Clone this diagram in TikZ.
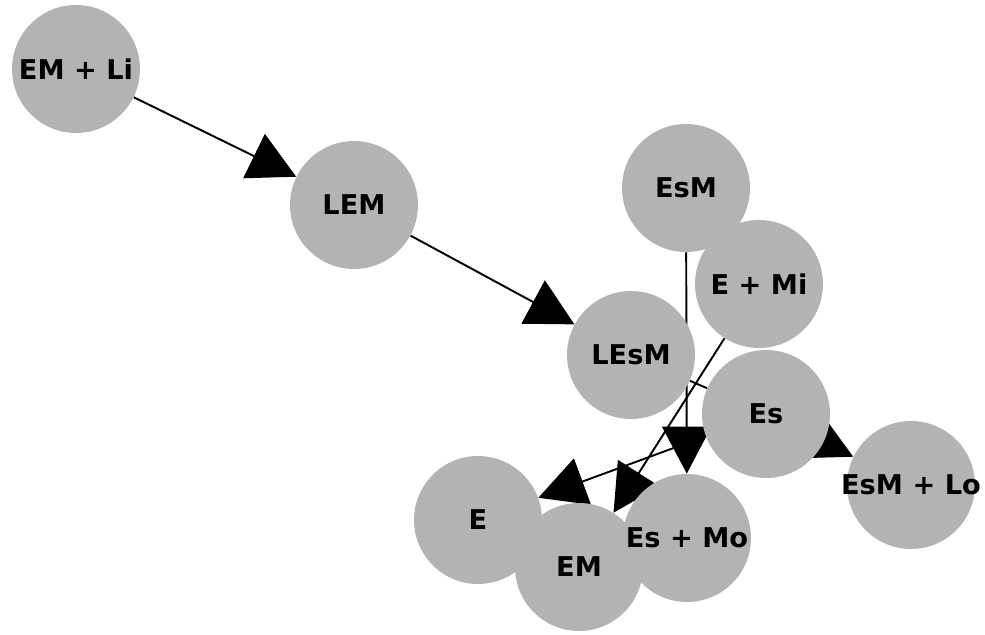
\documentclass[tikz,border=0pt]{standalone}
\usepackage{fontspec}
\setmainfont{DejaVu Sans}
\usetikzlibrary{arrows.meta,backgrounds}

% label that may run past its disc without widening it
\newcommand{\overhang}[1]{\makebox[0pt]{#1}}

\begin{document}
\begin{tikzpicture}[
    x=0.02cm, y=-0.02cm,
    % gray state discs and thin black transitions
    state/.style={circle, fill={rgb,255:red,179;green,179;blue,179}, draw=none,
                  minimum size=2.56cm, inner sep=0pt,
                  font=\fontsize{15.5}{18}\selectfont\bfseries},
    reaction/.style={-{Triangle[length=0.94cm,width=0.98cm]}, line width=1.1pt, color=black},
    link/.style={line width=1.1pt, color=black}
]

\useasboundingbox (0,0) rectangle (985,635);

% States
\node[state] (em_li) at (76,69) {EM + Li};
\node[state] (lem) at (354,205) {LEM};
\node[state] (esm) at (686,188) {EsM};
\node[state] (e_mi) at (759,284) {E + Mi};
\node[state] (lesm) at (631,355) {LEsM};
\node[state] (es) at (766,414) {Es};
\node[state] (esm_lo) at (911,485) {\overhang{EsM + Lo}};
\node[state] (e) at (478,520) {E};
\node[state] (em) at (579,567) {EM};
\node[state] (es_mo) at (687,538) {\overhang{Es + Mo}};

% Transitions, kept behind the discs
\begin{scope}[on background layer]
    \draw[reaction] (em_li) -- (lem);
    \draw[reaction] (lem) -- (lesm);
    \draw[link] (lesm) -- (es);
    \draw[reaction] (esm) -- (es_mo);
    \draw[reaction] (e_mi) -- (em);
    \draw[reaction] (es) -- (e);
    \draw[reaction] (es) -- (esm_lo);
\end{scope}

\end{tikzpicture}
\end{document}
